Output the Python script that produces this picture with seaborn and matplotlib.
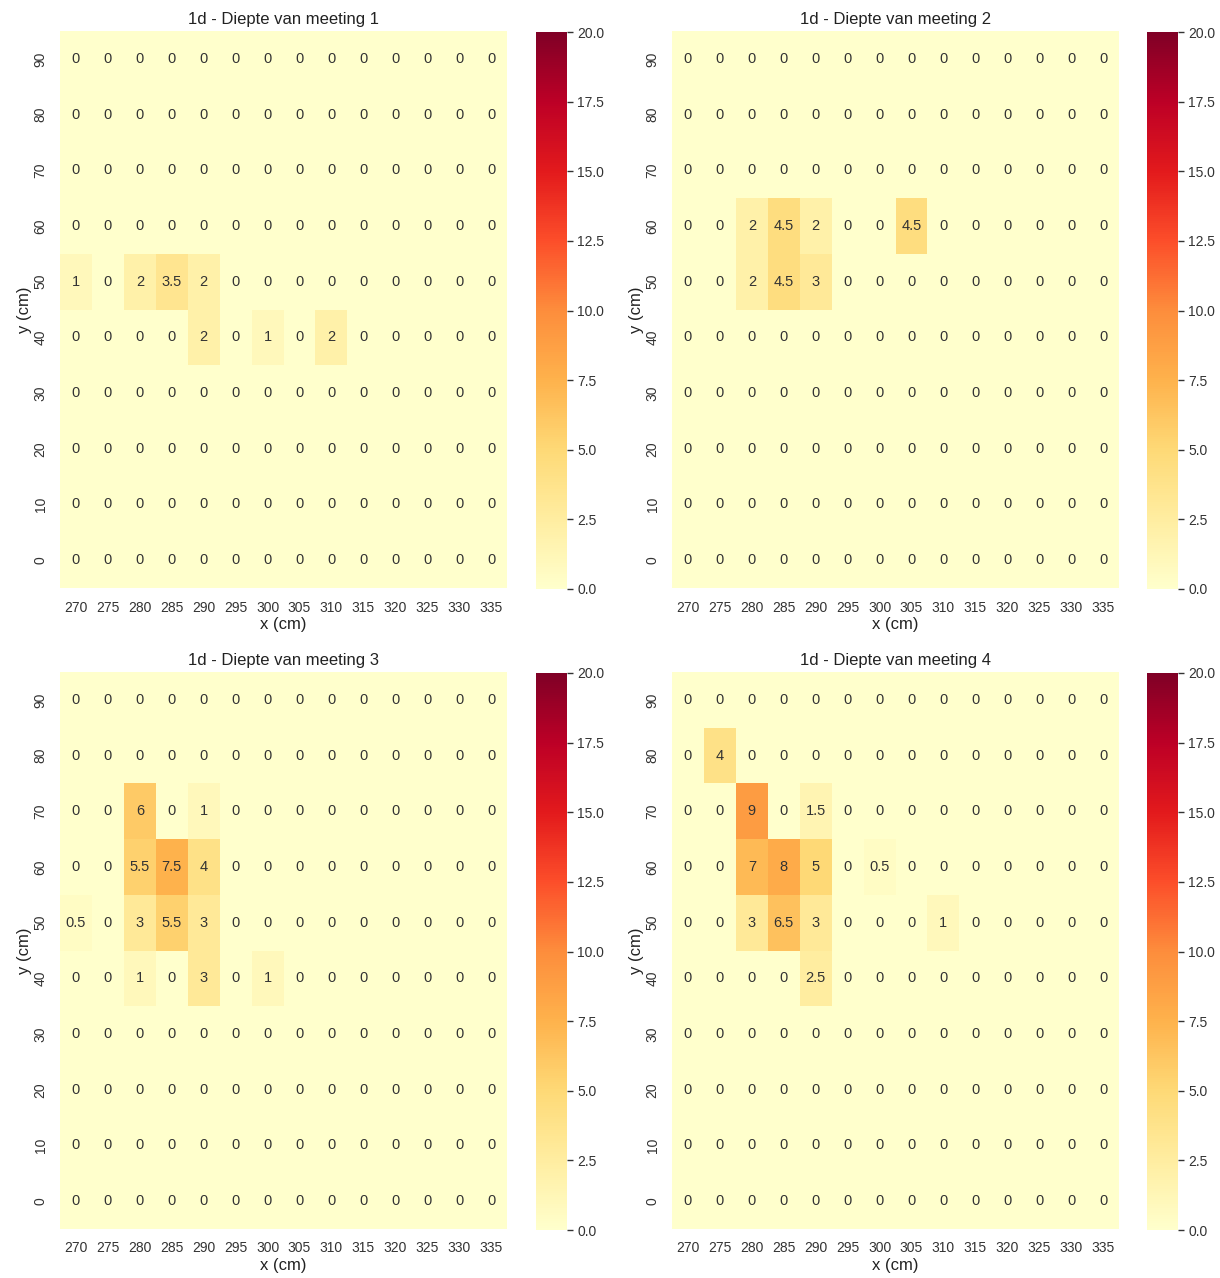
import numpy as np
import pandas as pd
import matplotlib
matplotlib.use("Agg")
import matplotlib.pyplot as plt
import seaborn as sns

x_labels = [270, 275, 280, 285, 290, 295, 300, 305, 310, 315, 320, 325, 330, 335]
y_labels = [90, 80, 70, 60, 50, 40, 30, 20, 10, 0]
titles = ["1d - Diepte van meeting 1", "1d - Diepte van meeting 2",
          "1d - Diepte van meeting 3", "1d - Diepte van meeting 4"]

z = [0] * 14
meeting_1 = [
    z, z, z, z,
    [1, 0, 2, 3.5, 2, 0, 0, 0, 0, 0, 0, 0, 0, 0],
    [0, 0, 0, 0, 2, 0, 1, 0, 2, 0, 0, 0, 0, 0],
    z, z, z, z,
]
meeting_2 = [
    z, z, z,
    [0, 0, 2, 4.5, 2, 0, 0, 4.5, 0, 0, 0, 0, 0, 0],
    [0, 0, 2, 4.5, 3, 0, 0, 0, 0, 0, 0, 0, 0, 0],
    z, z, z, z, z,
]
meeting_3 = [
    z, z,
    [0, 0, 6, 0, 1, 0, 0, 0, 0, 0, 0, 0, 0, 0],
    [0, 0, 5.5, 7.5, 4, 0, 0, 0, 0, 0, 0, 0, 0, 0],
    [0.5, 0, 3, 5.5, 3, 0, 0, 0, 0, 0, 0, 0, 0, 0],
    [0, 0, 1, 0, 3, 0, 1, 0, 0, 0, 0, 0, 0, 0],
    z, z, z, z,
]
meeting_4 = [
    z,
    [0, 4, 0, 0, 0, 0, 0, 0, 0, 0, 0, 0, 0, 0],
    [0, 0, 9, 0, 1.5, 0, 0, 0, 0, 0, 0, 0, 0, 0],
    [0, 0, 7, 8, 5, 0, 0.5, 0, 0, 0, 0, 0, 0, 0],
    [0, 0, 3, 6.5, 3, 0, 0, 0, 1, 0, 0, 0, 0, 0],
    [0, 0, 0, 0, 2.5, 0, 0, 0, 0, 0, 0, 0, 0, 0],
    z, z, z, z,
]
meetings = [meeting_1, meeting_2, meeting_3, meeting_4]

sns.set_theme(style="white")
plt.rcParams["font.family"] = ["Liberation Sans", "DejaVu Sans"]

fig = plt.figure(figsize=(12.2, 12.78), dpi=100)
W, H = 1220, 1278
hm_pos = [(60, 31), (672, 31), (60, 672), (672, 672)]
cb_pos = [(536, 32), (1147, 32), (536, 673), (1147, 673)]
hw, hh = 447, 557
cw, ch = 31, 557

for i, data in enumerate(meetings):
    hx, hy = hm_pos[i]
    cx, cy = cb_pos[i]
    ax = fig.add_axes([hx / W, 1 - (hy + hh) / H, hw / W, hh / H])
    cax = fig.add_axes([cx / W, 1 - (cy + ch) / H, cw / W, ch / H])
    df = pd.DataFrame(data, index=y_labels, columns=x_labels)
    sns.heatmap(df, ax=ax, cbar_ax=cax, cmap="YlOrRd", vmin=0, vmax=20,
                annot=True, fmt="g", annot_kws={"fontsize": 10.5, "color": "#333333"})
    ax.set_title(titles[i], fontsize=12, color="#222222", pad=5)
    ax.set_xlabel("x (cm)", fontsize=12, color="#222222", labelpad=2)
    ax.set_ylabel("y (cm)", fontsize=12, color="#222222", labelpad=1)
    ax.tick_params(axis="x", length=0, labelsize=10, colors="#333333", pad=9)
    ax.tick_params(axis="y", length=0, labelsize=10, colors="#333333", pad=9)
    plt.setp(ax.get_yticklabels(), rotation=90, va="center")
    plt.setp(ax.get_xticklabels(), rotation=0)
    cax.tick_params(length=4, width=1, labelsize=10, colors="#333333", right=True)
    cax.yaxis.set_ticks([0, 2.5, 5, 7.5, 10, 12.5, 15, 17.5, 20])
    cax.yaxis.set_major_formatter(matplotlib.ticker.FormatStrFormatter("%.1f"))

fig.savefig("out.png", dpi=100)
